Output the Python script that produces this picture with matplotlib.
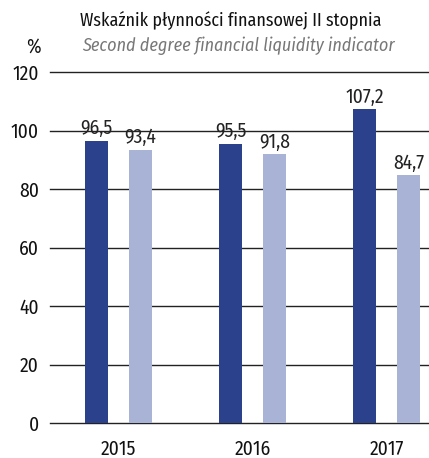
import matplotlib
matplotlib.use("Agg")
import matplotlib.pyplot as plt
import numpy as np

plt.rcParams['font.family'] = ['Fira Sans Condensed', 'DejaVu Sans']

years = ['2015', '2016', '2017']
series_a = [96.5, 95.5, 107.2]
series_b = [93.4, 91.8, 84.7]
yticks = [0, 20, 40, 60, 80, 100, 120]

dark = '#2b418b'
light = '#a9b3d5'

fig = plt.figure(figsize=(4.29, 4.58), dpi=100)
ax = fig.add_axes([50/429, 1 - 423/458, 379/429, (423-72)/458])

x = np.arange(len(years))
w = 0.172
off = 0.164
ax.bar(x - off, series_a, width=w, color=dark, zorder=3)
ax.bar(x + off, series_b, width=w, color=light, zorder=3)

# value labels above bars, decimal comma
for xi, v in zip(x, series_a):
    ax.text(xi - off, v + 0.8, f"{v:.1f}".replace('.', ','), ha='center', va='bottom', fontsize=14, color='#222222')
for xi, v in zip(x, series_b):
    ax.text(xi + off, v + 0.8, f"{v:.1f}".replace('.', ','), ha='center', va='bottom', fontsize=14, color='#222222')

ax.set_xlim(-0.511, 2.317)
ax.set_ylim(0, 120)
ax.set_yticks(yticks)
ax.set_xticks(x)
ax.set_xticklabels(years)
ax.tick_params(axis='both', length=0, labelsize=14, colors='#111111')
ax.tick_params(axis='y', pad=8)
ax.tick_params(axis='x', pad=12)
for s in ax.spines.values():
    s.set_visible(False)
for t in yticks:
    ax.axhline(t, color='#222222', lw=1.0, zorder=2, clip_on=False)

fig.text(231/429, 1 - 20/458, 'Wskaźnik płynności finansowej II stopnia', ha='center', va='center', fontsize=12.9, color='#111111')
fig.text(238/429, 1 - 46/458, 'Second degree financial liquidity indicator', ha='center', va='center', fontsize=13, style='italic', color='#777777')
fig.text(33/429, 1 - 47/458, '%', ha='center', va='center', fontsize=14, color='#111111')

fig.savefig('out.png', dpi=100)
